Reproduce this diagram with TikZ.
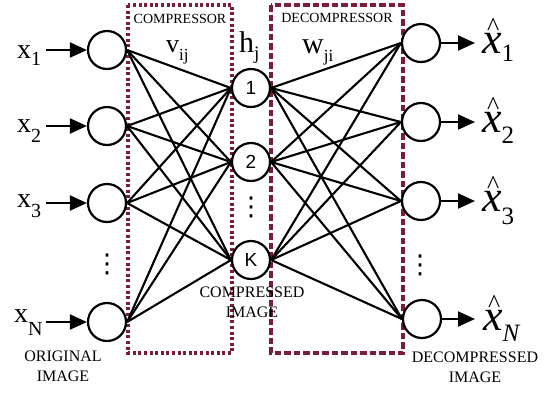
\documentclass[tikz,border=0pt]{standalone}
\usepackage{fontspec}
\setmainfont{Liberation Serif}
\newfontfamily\sansf{Liberation Sans}
\newfontfamily\dejav{DejaVu Sans}
\usetikzlibrary{arrows.meta}
\definecolor{boxred}{RGB}{122,28,58}
\newcommand\fs[1]{\fontsize{#1}{#1}\selectfont}
\newcommand\insub[2][9pt]{\raisebox{-#1}{\fs{20}#2}}
\newcommand\xh[2][8pt]{\rlap{\hspace{5pt}\raisebox{18pt}{\fs{26}\textup{\textasciicircum}}}\textit{x}\raisebox{-#1}{\fs{25}#2}}
\begin{document}
\begin{tikzpicture}[x=1pt,y=-1pt,
  neuron/.style={circle,draw,fill=white,line width=2.2pt,minimum size=38pt,inner sep=0pt},
  link/.style={line width=2.1pt},
  arr/.style={line width=2.1pt,-{Triangle[length=17pt,width=15pt]}},
  cbox/.style={draw=boxred,line width=3.3pt,dash pattern=on 3pt off 2.6pt},
  dbox/.style={draw=boxred,line width=3.3pt,dash pattern=on 6.5pt off 3pt},
  lbl/.style={inner sep=0pt},
  tag/.style={inner sep=0pt,align=center,font=\fontsize{16}{20}\selectfont},
  boxtitle/.style={inner sep=0pt,font=\fs{14}},
  dotcol/.style={inner sep=0pt,font=\dejav\fs{26}}]
\useasboundingbox (0,0) rectangle (547,392);

% boxes
\draw[cbox] (128,5) rectangle (232,353);
\draw[dbox] (271,5) rectangle (403,353);

% neurons
\node[neuron] (i1) at (107,50) {};
\node[neuron] (i2) at (107,126) {};
\node[neuron] (i3) at (107,203) {};
\node[neuron] (iN) at (107,322) {};
\node[neuron,font=\sansf\fs{19}] (h1) at (251,88) {1};
\node[neuron,font=\sansf\fs{19}] (h2) at (251,162) {2};
\node[neuron,font=\sansf\fs{19}] (hK) at (251,260) {K};
\node[neuron] (o1) at (421,43) {};
\node[neuron] (o2) at (421,122) {};
\node[neuron] (o3) at (421,201) {};
\node[neuron] (oN) at (422,319) {};

% connections
\foreach \a in {i1,i2,i3,iN}{
  \foreach \b in {h1,h2,hK}{
    \draw[link] (\a.east) -- (\b.west);
  }
}
\foreach \a in {h1,h2,hK}{
  \foreach \b in {o1,o2,o3,oN}{
    \draw[link] (\a.east) -- (\b.west);
  }
}

% input labels
\node[lbl,anchor=base west] (l1) at (17,58) {\fs{28}x\insub[7pt]{1}};
\node[lbl,anchor=base west] (l2) at (17,132) {\fs{28}x\insub[10pt]{2}};
\node[lbl,anchor=base west] (l3) at (17,207) {\fs{28}x\insub[10pt]{3}};
\node[lbl,anchor=base west] (lN) at (14,322) {\fs{28}x\insub[13pt]{N}};
\draw[arr] ([xshift=5pt]l1.east |- i1) -- (i1.west);
\draw[arr] ([xshift=5pt]l2.east |- i2) -- (i2.west);
\draw[arr] ([xshift=5pt]l3.east |- i3) -- (i3.west);
\draw[arr] ([xshift=3pt]lN.east |- iN) -- (iN.west);

% output labels
\node[lbl,anchor=base west] (ol1) at (482,53) {\fs{44}\xh[8pt]{1}};
\node[lbl,anchor=base west] (ol2) at (482,132) {\fs{44}\xh[11pt]{2}};
\node[lbl,anchor=base west] (ol3) at (482,211) {\fs{44}\xh[13pt]{3}};
\node[lbl,anchor=base west] (olN) at (483,330) {\fs{44}\xh[11pt]{\textit{N}}};
\draw[arr] (o1.east) -- ([xshift=-7pt]ol1.west |- o1);
\draw[arr] (o2.east) -- ([xshift=-7pt]ol2.west |- o2);
\draw[arr] (o3.east) -- ([xshift=-7pt]ol3.west |- o3);
\draw[arr] (oN.east) -- ([xshift=-8pt]olN.west |- oN);

% titles and weights
\node[boxtitle] (ct) at (180,19) {COMPRESSOR};
\node[boxtitle] (dt) at (337,18) {DECOMPRESSOR};
\node[lbl,anchor=base west] (v) at (166,52) {\fs{26}v\raisebox{-8pt}{\fs{17}ij}};
\node[lbl,anchor=base west] (h) at (239,52) {\fs{30}h\raisebox{-7pt}{\fs{19}j}};
\node[lbl,anchor=base west] (w) at (302,53) {\fs{30}w\raisebox{-8pt}{\fs{17}ji}};

% dots
\node[dotcol] (d1) at (107,264) {⋮};
\node[dotcol] (d2) at (251,207) {⋮};
\node[dotcol] (d3) at (420,265) {⋮};

% captions
\node[tag] (oi) at (63,366) {ORIGINAL\\IMAGE};
\node[tag] (ci) at (252,302) {COMPRESSED\\IMAGE};
\node[tag] (di) at (475,367) {DECOMPRESSED\\IMAGE};
\end{tikzpicture}
\end{document}
